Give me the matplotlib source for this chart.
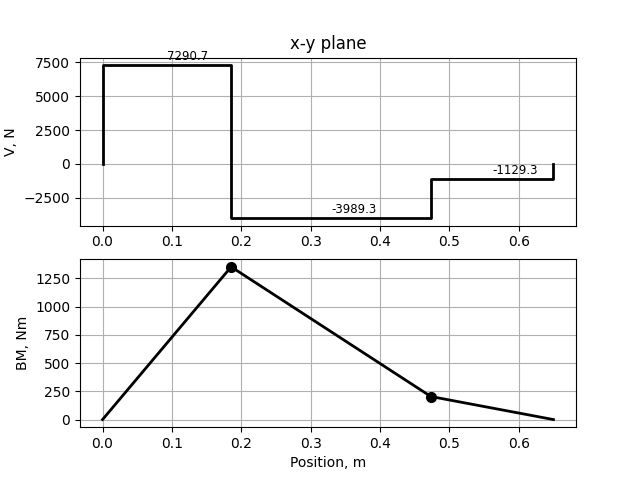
import matplotlib
matplotlib.use("Agg")
import matplotlib.pyplot as plt

# Shear force data (step segments)
seg_x = [0.0, 0.1854, 0.4733, 0.65]
shear_vals = [7290.7, -3989.3, -1129.3]

# Bending moment data
bm_x = [0.0, 0.1854, 0.4733, 0.65]
bm_vals = [0.0, 1351.7, 204.0, 0.0]

fig, (ax1, ax2) = plt.subplots(2, 1, figsize=(6.4, 4.8), dpi=100)

# build step line
vx = [seg_x[0]]
vy = [0.0]
for i, v in enumerate(shear_vals):
    vx += [seg_x[i], seg_x[i + 1]]
    vy += [v, v]
vx.append(seg_x[-1])
vy.append(0.0)
ax1.plot(vx, vy, color="black", lw=2)
for i, v in enumerate(shear_vals):
    mid = (seg_x[i] + seg_x[i + 1]) / 2
    ax1.text(mid, v + 400, f"{v}", fontsize=8.5)
ax1.set_title("x-y plane")
ax1.set_ylabel("V, N")
ax1.grid(True)

ax2.plot(bm_x, bm_vals, color="black", lw=2)
ax2.plot(bm_x[1:3], bm_vals[1:3], "o", color="black", ms=7)
ax2.set_ylabel("BM, Nm")
ax2.set_xlabel("Position, m")
ax2.grid(True)

fig.savefig("out.png", dpi=100)
